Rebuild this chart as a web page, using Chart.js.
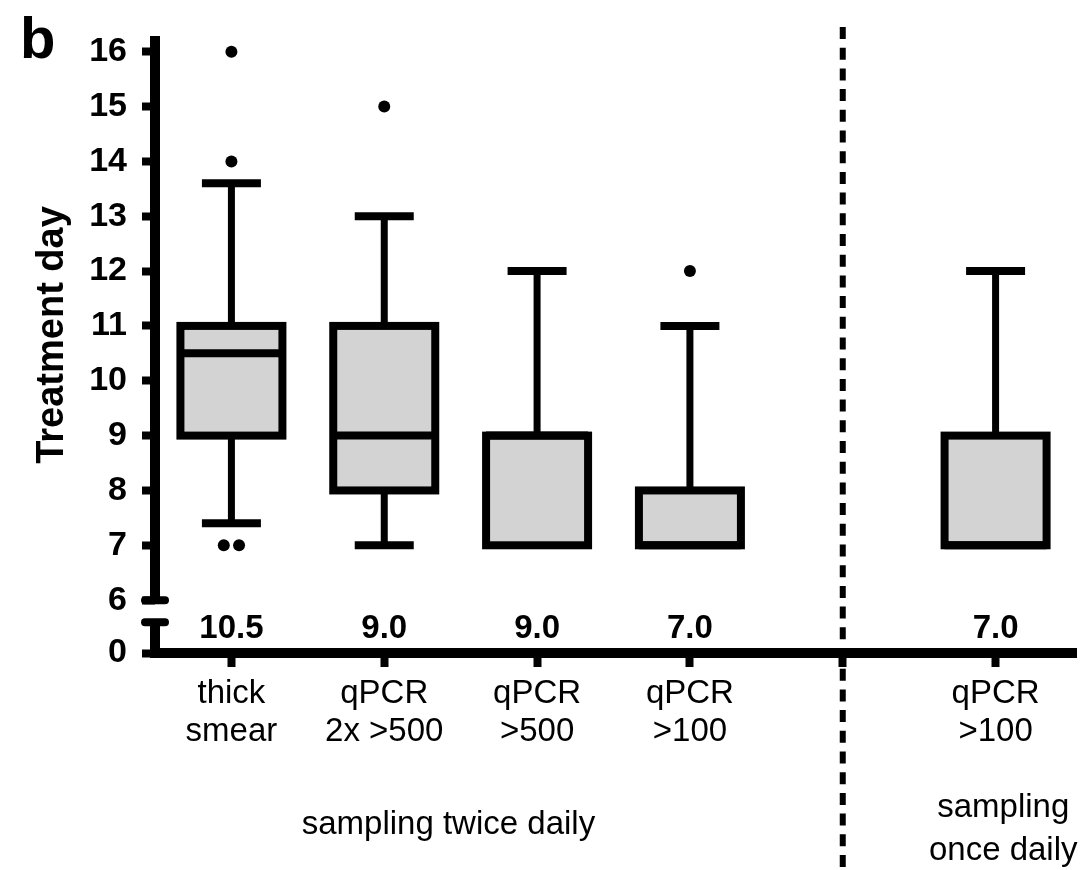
<!DOCTYPE html>
<html>
<head>
<meta charset="utf-8">
<title>Treatment day box plot</title>
<script src="https://cdn.jsdelivr.net/npm/chart.js@4.4.1/dist/chart.umd.min.js"></script>
<style>
    html, body { margin: 0; padding: 0; background: #fff; }
    #wrap { position: relative; width: 1091px; height: 870px; }
</style>
</head>
<body>
<div id="wrap"><canvas id="chart"></canvas></div>
<script>
// Category tick labels (slot 4 is the empty gap with the dashed divider)
const tickLabels = [['thick', 'smear'], ['qPCR', '2x >500'], ['qPCR', '>500'], ['qPCR', '>100'], '', ['qPCR', '>100']];
const boxSlots = [0, 1, 2, 3, 5];

// Box plot values, one entry per box
const q1 = [9, 8, 7, 7, 7];
const q3 = [11, 11, 9, 8, 9];
const medians = [10.5, 9, 9, 7, 7];
const whiskerLow = [7.4, 7, 7, 7, 7];
const whiskerHigh = [13.6, 13, 12, 11, 12];

// Outlier dots (the two at day 7 sit side by side)
const outlierSlots = [-0.05, 0.05, 0, 0, 1, 3];
const outlierValues = [7, 7, 14, 16, 15, 12];

// Y axis tick labels, the axis is broken between 0 and 6
const yTicks = [0, 6, 7, 8, 9, 10, 11, 12, 13, 14, 15, 16];
const dividerSlot = 4;

// Axis break: everything from 0 to 6 is squeezed into a short stretch
const BREAK_AT = 6;
const ZERO_POS = 5.036;
const toAxis = (v) => v >= BREAK_AT ? v : ZERO_POS + (v / BREAK_AT) * (BREAK_AT - ZERO_POS);

const FONT = "'Liberation Sans', Arial, Helvetica, sans-serif";

// Draws whiskers, box outlines, medians, the broken axes and the extra texts
const boxPlotPlugin = {
    id: 'boxPlot',
    beforeDatasetsDraw(chart) {
        const { ctx, scales: { x, y } } = chart;
        ctx.save();
        ctx.strokeStyle = '#000';
        ctx.lineWidth = 7;
        boxSlots.forEach((slot, i) => {
            const px = x.getPixelForValue(slot);
            ctx.beginPath();
            ctx.moveTo(px, y.getPixelForValue(toAxis(q3[i])));
            ctx.lineTo(px, y.getPixelForValue(toAxis(whiskerHigh[i])));
            ctx.moveTo(px, y.getPixelForValue(toAxis(q1[i])));
            ctx.lineTo(px, y.getPixelForValue(toAxis(whiskerLow[i])));
            ctx.stroke();
        });
        ctx.restore();
    },
    afterDatasetsDraw(chart) {
        const { ctx, chartArea, scales: { x, y } } = chart;
        const boxMeta = chart.getDatasetMeta(0);
        ctx.save();
        ctx.strokeStyle = '#000';
        ctx.fillStyle = '#000';

        // whisker caps
        ctx.lineWidth = 8;
        boxSlots.forEach((slot, i) => {
            const px = x.getPixelForValue(slot);
            [[whiskerHigh[i], q3[i]], [whiskerLow[i], q1[i]]].forEach(([w, q]) => {
                if (w === q) return;
                const py = y.getPixelForValue(toAxis(w));
                ctx.beginPath();
                ctx.moveTo(px - 29.5, py);
                ctx.lineTo(px + 29.5, py);
                ctx.stroke();
            });
        });

        // box outlines and median lines
        ctx.lineJoin = 'miter';
        boxMeta.data.forEach((bar, i) => {
            const { x: bx, y: by, base, width } = bar.getProps(['x', 'y', 'base', 'width'], true);
            const top = Math.min(by, base);
            const h = Math.abs(base - by);
            ctx.strokeRect(bx - width / 2, top, width, h);
            const my = y.getPixelForValue(toAxis(medians[i]));
            ctx.beginPath();
            ctx.moveTo(bx - width / 2, my);
            ctx.lineTo(bx + width / 2, my);
            ctx.stroke();
        });

        // broken y axis
        const axisX = chartArea.left;
        const y6 = y.getPixelForValue(toAxis(BREAK_AT));
        ctx.lineWidth = 10;
        ctx.beginPath();
        ctx.moveTo(axisX, chartArea.top - 2);
        ctx.lineTo(axisX, y6);
        ctx.moveTo(axisX, y6 + 22);
        ctx.lineTo(axisX, chartArea.bottom);
        ctx.stroke();
        ctx.lineWidth = 8;
        ctx.lineCap = 'round';
        [y6, y6 + 22].forEach(py => {
            ctx.beginPath();
            ctx.moveTo(axisX - 10, py);
            ctx.lineTo(axisX + 10, py);
            ctx.stroke();
        });
        ctx.lineCap = 'butt';

        // x axis
        ctx.lineWidth = 10;
        ctx.beginPath();
        ctx.moveTo(axisX - 5, chartArea.bottom);
        ctx.lineTo(chartArea.right + 5, chartArea.bottom);
        ctx.stroke();

        // dashed divider between the sampling schemes
        const dx = x.getPixelForValue(dividerSlot);
        ctx.lineWidth = 6;
        ctx.setLineDash([12, 8.7]);
        ctx.beginPath();
        ctx.moveTo(dx, 27);
        ctx.lineTo(dx, chart.height);
        ctx.stroke();
        ctx.setLineDash([]);

        // median values under the boxes
        ctx.textAlign = 'center';
        ctx.textBaseline = 'middle';
        ctx.font = `bold 33px ${FONT}`;
        boxSlots.forEach((slot, i) => {
            ctx.fillText(medians[i].toFixed(1), x.getPixelForValue(slot), y6 + 29);
        });

        // sampling group labels
        ctx.font = `33px ${FONT}`;
        ctx.fillText('sampling twice daily', x.getPixelForValue(1.42), 825);
        ctx.fillText('sampling', x.getPixelForValue(5.05), 808);
        ctx.fillText('once daily', x.getPixelForValue(5.05), 851);

        // y axis title
        ctx.save();
        ctx.translate(53, 335);
        ctx.rotate(-Math.PI / 2);
        ctx.font = `bold 38px ${FONT}`;
        ctx.fillText('Treatment day', 0, 0);
        ctx.restore();

        // panel letter
        ctx.textAlign = 'left';
        ctx.textBaseline = 'alphabetic';
        ctx.font = `bold 58px ${FONT}`;
        ctx.fillText('b', 20, 58);

        ctx.restore();
    }
};

const ctx = document.getElementById('chart').getContext('2d');
new Chart(ctx, {
    type: 'bar',
    data: {
        datasets: [
            {
                type: 'bar',
                data: boxSlots.map((slot, i) => ({ x: slot, y: [toAxis(q1[i]), toAxis(q3[i])] })),
                backgroundColor: '#d3d3d3',
                borderWidth: 0,
                barThickness: 102
            },
            {
                type: 'scatter',
                data: outlierSlots.map((slot, i) => ({ x: slot, y: toAxis(outlierValues[i]) })),
                backgroundColor: '#000',
                borderColor: '#000',
                borderWidth: 0,
                pointRadius: 6
            }
        ]
    },
    options: {
        responsive: true,
        maintainAspectRatio: false,
        animation: false,
        devicePixelRatio: 1,
        layout: { padding: { top: 38, right: 19, left: 0, bottom: 0 } },
        plugins: { legend: { display: false }, tooltip: { enabled: false } },
        scales: {
            x: {
                type: 'linear',
                min: -0.5,
                max: 5.5,
                offset: false,
                afterBuildTicks: (scale) => { scale.ticks = tickLabels.map((_, i) => ({ value: i })); },
                afterFit: (scale) => { scale.height = 217; },
                ticks: {
                    callback: (value, index) => tickLabels[index],
                    color: '#000',
                    font: { family: FONT, size: 33, lineHeight: 1.15 },
                    padding: 8,
                    maxRotation: 0,
                    autoSkip: false
                },
                grid: { offset: false, drawOnChartArea: false, tickLength: 14, tickWidth: 8, tickColor: '#000' },
                border: { display: false }
            },
            y: {
                type: 'linear',
                min: ZERO_POS,
                max: 16.25,
                afterBuildTicks: (scale) => { scale.ticks = yTicks.map(v => ({ value: toAxis(v) })); },
                afterFit: (scale) => { scale.width = 155; },
                ticks: {
                    callback: (value, index) => String(yTicks[index]),
                    color: '#000',
                    font: { family: FONT, size: 34, weight: 'bold' },
                    padding: 15
                },
                grid: { drawOnChartArea: false, tickLength: 13, tickWidth: 8, tickColor: '#000' },
                border: { display: false }
            }
        }
    },
    plugins: [boxPlotPlugin]
});
</script>
</body>
</html>
